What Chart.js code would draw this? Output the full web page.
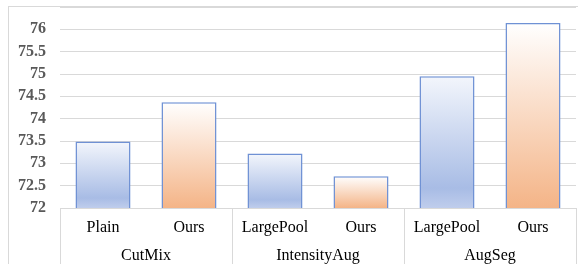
<!DOCTYPE html>
<html>
<head>
<meta charset="utf-8">
<script src="https://cdn.jsdelivr.net/npm/chart.js@4.4.1/dist/chart.umd.min.js"></script>
<style>
  html, body { margin: 0; padding: 0; background: #fff; overflow: hidden; }
  #wrap { position: relative; width: 578px; height: 264px; overflow: hidden; }
  #frame { position: absolute; left: 8px; top: 6px; width: 700px; height: 400px; border: 1px solid #d9d9d9; }
  #chart { position: absolute; left: 0; top: 0; }
</style>
</head>
<body>
<div id="wrap">
  <div id="frame"></div>
  <canvas id="chart" width="578" height="264"></canvas>
</div>
<script>
// data
const subLabels = ["Plain", "Ours", "LargePool", "Ours", "LargePool", "Ours"];
const groupLabels = ["CutMix", "IntensityAug", "AugSeg"];
const scores = [73.49, 74.37, 73.22, 72.71, 74.95, 76.14];
const yMin = 72;
const yMax = 76.5;
const yStep = 0.5;

const serif = "'Liberation Serif', 'Times New Roman', serif";
const gridGray = "#d9d9d9";

// excel-like vertical gradient per bar
const barFill = (ctx) => {
    const chart = ctx.chart;
    const ours = subLabels[ctx.dataIndex] === "Ours";
    if (!chart.chartArea || !chart.scales.y) return ours ? "#f4b68a" : "#a9bde6";
    const y = chart.scales.y;
    const top = y.getPixelForValue(scores[ctx.dataIndex]);
    const bottom = y.getPixelForValue(yMin);
    const g = chart.ctx.createLinearGradient(0, top, 0, bottom);
    if (ours) {
        g.addColorStop(0, "#ffffff");
        g.addColorStop(1, "#f4b487");
    } else {
        g.addColorStop(0, "#f3f6fc");
        g.addColorStop(0.85, "#a8bce5");
        g.addColorStop(1, "#bfcdec");
    }
    return g;
};

new Chart(document.getElementById("chart"), {
    type: "bar",
    data: {
        labels: subLabels,
        datasets: [
            {
                data: scores,
                backgroundColor: barFill,
                borderColor: "#6f91d4",
                borderWidth: 1.5,
                borderSkipped: false,
                barPercentage: 0.64,
                categoryPercentage: 1,
            },
        ],
    },
    options: {
        responsive: false,
        animation: false,
        devicePixelRatio: 1,
        layout: { padding: { left: 0, right: 2, top: 7, bottom: 0 } },
        plugins: {
            legend: { display: false },
            tooltip: { enabled: false },
        },
        scales: {
            y: {
                min: yMin,
                max: yMax,
                border: { display: false },
                grid: { color: gridGray, drawTicks: false, lineWidth: 1 },
                ticks: {
                    stepSize: yStep,
                    padding: 14,
                    color: "#595959",
                    font: { family: serif, size: 16, weight: "bold" },
                    callback: (v) => (v >= yMax ? "" : v),
                },
                afterFit: (scale) => {
                    scale.width = 60;
                    scale.paddingTop = 0;
                    scale.paddingBottom = 0;
                },
            },
            x: {
                weight: 1,
                border: { display: true, color: gridGray },
                grid: {
                    offset: true,
                    drawOnChartArea: false,
                    drawTicks: true,
                    tickLength: 56,
                    tickColor: (ctx) =>
                        ctx.index === undefined || ctx.index % 2 === 0 ? gridGray : "rgba(0,0,0,0)",
                },
                ticks: {
                    padding: -46,
                    color: "#000",
                    font: { family: serif, size: 16 },
                    maxRotation: 0,
                    autoSkip: false,
                },
                afterFit: (scale) => {
                    scale.height = 30;
                },
            },
            group: {
                type: "category",
                position: "bottom",
                weight: 2,
                labels: groupLabels,
                offset: true,
                border: { display: false },
                grid: { display: false },
                ticks: {
                    padding: 0,
                    color: "#000",
                    font: { family: serif, size: 16 },
                    maxRotation: 0,
                },
                afterFit: (scale) => {
                    scale.height = 26;
                },
            },
        },
    },
});
</script>
</body>
</html>
